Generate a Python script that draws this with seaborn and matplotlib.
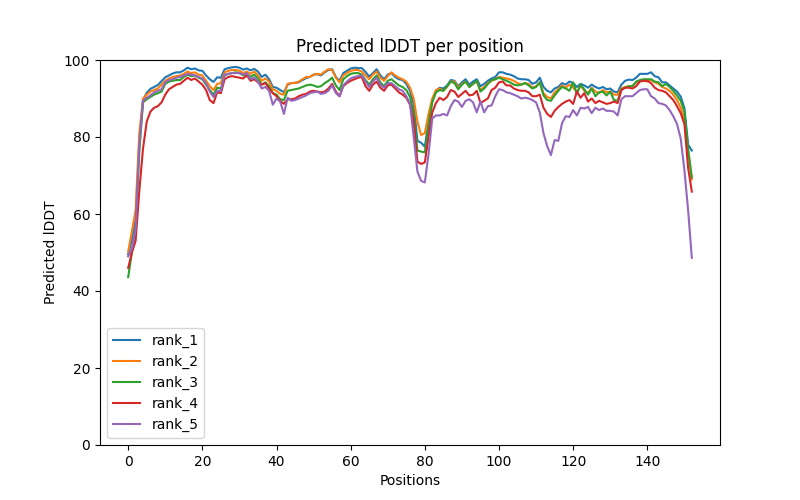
import numpy as np
import pandas as pd
import matplotlib
matplotlib.use("Agg")
import matplotlib.pyplot as plt
import seaborn as sns

# per-residue lDDT, one list per model rank
rank_1 = [49.5, 53.5, 58.5, 79.0, 89.5, 91.5, 92.5, 93.0, 93.5, 94.5,
          95.5, 96.0, 96.5, 96.8, 96.8, 97.3, 98.0, 97.6, 97.8, 97.3,
          97.2, 96.0, 95.0, 94.3, 95.5, 95.4, 97.6, 97.9, 98.1, 98.2,
          98.0, 97.5, 97.8, 97.3, 97.7, 97.0, 95.6, 96.2, 95.0, 93.0,
          92.8, 92.2, 91.6, 93.6, 94.0, 94.1, 94.2, 94.8, 95.3, 95.6,
          96.2, 96.3, 96.0, 96.8, 97.4, 97.6, 95.6, 94.6, 96.6, 97.2,
          97.8, 98.0, 97.9, 97.9, 96.9, 95.7, 96.6, 97.6, 96.0, 95.0,
          96.2, 96.6, 95.6, 95.0, 94.8, 93.8, 92.0, 88.5, 79.0, 78.5,
          77.5, 84.0, 89.5, 92.0, 92.8, 92.6, 93.4, 94.8, 94.6, 93.2,
          94.2, 95.0, 93.6, 94.4, 95.0, 93.2, 93.8, 94.6, 95.2, 95.6,
          96.8, 96.8, 96.4, 96.2, 95.8, 95.2, 95.0, 95.0, 94.8, 93.8,
          94.2, 95.4, 93.0, 92.0, 91.6, 92.6, 93.0, 94.0, 93.6, 94.4,
          94.0, 93.0, 93.8, 93.4, 92.8, 93.6, 93.0, 92.6, 93.0, 92.4,
          92.6, 91.8, 91.6, 93.6, 94.6, 94.9, 94.8, 95.4, 96.4, 96.4,
          96.4, 96.8, 95.8, 95.5, 94.2, 94.2, 93.4, 92.6, 91.8, 90.5,
          87.5, 78.0, 76.5]

rank_2 = [50.2, 55.5, 61.0, 81.0, 90.0, 91.0, 91.8, 92.2, 92.6, 93.6,
          94.6, 95.2, 95.6, 95.8, 96.0, 96.4, 97.0, 96.6, 96.8, 96.2,
          96.0, 94.6, 93.2, 92.2, 93.8, 94.0, 96.8, 97.2, 97.4, 97.4,
          97.2, 96.6, 97.0, 96.4, 97.0, 96.0, 94.6, 95.2, 94.4, 92.4,
          92.0, 91.2, 91.0, 93.8, 94.0, 94.0, 94.4, 95.0, 95.6, 95.6,
          96.2, 96.4, 96.2, 97.0, 97.6, 97.4, 95.4, 94.2, 96.0, 96.6,
          97.2, 97.4, 97.4, 97.0, 96.0, 95.0, 96.2, 97.0, 95.4, 94.6,
          95.8, 96.8, 96.0, 95.4, 95.0, 94.4, 92.8, 90.0, 84.0, 80.5,
          81.0, 86.0, 90.0, 92.2, 92.6, 92.0, 93.0, 94.4, 94.4, 92.8,
          93.8, 94.4, 93.0, 93.8, 94.4, 92.2, 93.0, 94.0, 94.6, 95.0,
          95.6, 95.4, 95.2, 95.0, 94.6, 94.0, 93.6, 94.0, 93.8, 92.8,
          93.2, 94.2, 91.4, 90.4, 90.0, 91.6, 92.4, 93.4, 92.8, 93.6,
          92.8, 91.6, 93.4, 92.0, 91.4, 92.8, 91.8, 91.4, 92.2, 91.6,
          91.8, 91.0, 91.0, 92.6, 93.0, 93.2, 93.2, 94.2, 94.6, 94.6,
          94.4, 94.8, 94.2, 93.8, 93.0, 92.6, 92.0, 91.0, 89.6, 87.6,
          84.6, 76.0, 69.0]

rank_3 = [43.6, 50.0, 56.0, 76.0, 89.0, 89.8, 90.4, 91.0, 91.4, 91.8,
          93.8, 94.4, 94.6, 94.8, 94.8, 95.6, 96.2, 95.8, 96.0, 95.4,
          95.0, 93.6, 92.2, 91.0, 92.8, 92.6, 96.0, 96.4, 96.6, 96.8,
          96.6, 96.0, 96.4, 95.6, 96.2, 95.2, 93.6, 94.2, 93.2, 91.4,
          91.0, 89.8, 89.6, 92.0, 92.2, 92.4, 92.6, 93.0, 93.4, 93.6,
          93.4, 93.0, 93.2, 94.0, 94.6, 95.4, 93.4, 92.2, 95.0, 95.8,
          96.4, 96.6, 96.6, 96.2, 94.8, 93.6, 95.0, 96.0, 94.2, 93.2,
          94.6, 95.0, 94.2, 93.4, 93.0, 92.2, 90.4, 86.0, 76.5, 76.2,
          76.0, 83.0, 89.0, 91.6, 92.2, 92.0, 93.2, 94.4, 94.0, 92.4,
          93.6, 94.4, 93.0, 93.8, 94.6, 91.8, 92.6, 93.8, 94.8, 95.0,
          95.4, 95.0, 94.6, 94.2, 93.6, 93.4, 93.6, 94.0, 93.4, 92.6,
          93.0, 94.2, 90.8, 89.6, 89.4, 90.8, 92.0, 93.0, 92.6, 92.0,
          94.2, 91.2, 93.6, 92.4, 91.0, 92.6, 90.6, 91.6, 91.8, 90.8,
          91.8, 89.6, 89.4, 92.4, 92.8, 93.2, 93.2, 94.4, 94.8, 95.0,
          95.0, 95.0, 94.4, 94.2, 93.2, 93.8, 93.0, 92.0, 90.8, 89.4,
          86.6, 77.0, 69.5]

rank_4 = [46.0, 50.0, 53.0, 66.0, 77.0, 84.0, 86.6, 87.6, 88.0, 89.0,
          91.0, 92.4, 93.0, 93.6, 93.8, 94.6, 95.4, 94.8, 95.2, 94.4,
          93.6, 92.2, 89.6, 88.8, 91.6, 91.4, 95.0, 95.6, 95.8, 95.6,
          95.4, 95.2, 96.0, 94.6, 95.0, 94.2, 93.6, 94.0, 92.6, 91.4,
          90.6, 89.4, 88.6, 89.8, 89.8, 90.0, 90.6, 91.0, 91.2, 91.8,
          92.0, 91.8, 91.6, 91.8, 92.6, 93.8, 91.8, 90.6, 93.2, 94.0,
          94.6, 95.0, 95.4, 95.6, 93.2, 92.0, 93.6, 94.4, 92.8, 92.0,
          93.4, 93.6, 92.6, 91.6, 91.0, 90.2, 88.4, 84.0, 73.6, 73.0,
          73.4, 80.0, 86.4, 88.8, 90.2, 89.6, 90.4, 92.2, 91.8, 90.4,
          91.2, 92.0, 90.8, 91.0, 92.0, 88.8, 89.4, 90.0, 92.2, 92.8,
          94.2, 94.4, 93.4, 93.4, 92.6, 92.2, 92.0, 92.0, 91.6, 90.6,
          90.6, 91.0, 87.6, 86.0, 85.2, 86.8, 87.8, 88.6, 89.2, 89.6,
          88.6, 91.8, 90.2, 91.4, 89.2, 90.0, 88.8, 89.4, 89.0, 88.6,
          88.8, 89.2, 88.8, 92.2, 92.8, 92.8, 92.6, 93.2, 94.4, 94.6,
          94.6, 94.0, 92.8, 92.2, 92.0, 91.6, 90.6, 89.6, 88.0, 86.2,
          83.4, 72.0, 65.8]

rank_5 = [49.0, 51.0, 56.0, 78.0, 89.4, 90.2, 90.8, 91.6, 92.0, 92.4,
          94.2, 94.8, 95.0, 95.4, 95.6, 96.0, 96.4, 96.2, 96.0, 95.6,
          95.2, 94.0, 91.8, 90.4, 92.0, 92.0, 96.2, 96.4, 96.6, 96.6,
          96.6, 96.2, 96.6, 95.0, 95.4, 94.4, 92.6, 93.0, 92.0, 88.4,
          90.0, 89.2, 86.0, 90.2, 89.4, 89.6, 90.0, 90.4, 90.8, 91.4,
          91.6, 91.8, 91.2, 91.4, 92.0, 93.4, 91.4, 90.6, 93.4, 94.4,
          95.2, 95.6, 95.8, 96.0, 94.4, 93.0, 94.4, 95.4, 93.6, 92.8,
          94.0, 94.0, 93.2, 92.4, 92.0, 90.6, 88.6, 80.0, 71.0, 68.6,
          68.2, 75.5, 84.8, 85.6, 85.6, 86.0, 85.6, 88.0, 89.6, 89.2,
          87.8, 89.4, 89.8, 89.0, 86.4, 89.2, 86.4, 88.0, 88.2, 90.6,
          92.4, 92.2, 91.6, 91.4, 91.0, 90.6, 90.0, 90.2, 90.0, 89.6,
          89.0, 86.4, 81.0, 77.6, 75.3, 79.2, 79.0, 83.6, 85.4, 85.2,
          87.0, 85.6, 87.6, 87.4, 87.8, 86.2, 87.6, 87.0, 87.4, 86.8,
          86.8, 86.6, 85.6, 89.8, 90.6, 90.6, 90.6, 91.4, 92.2, 92.4,
          92.4, 90.6, 90.0, 88.8, 88.6, 88.2, 87.0, 85.4, 83.4, 79.6,
          71.4, 61.0, 48.6]

ranks = ["rank_1", "rank_2", "rank_3", "rank_4", "rank_5"]
series = [rank_1, rank_2, rank_3, rank_4, rank_5]

frames = []
for name, vals in zip(ranks, series):
    frames.append(pd.DataFrame({"Positions": np.arange(len(vals)),
                                "lDDT": vals, "rank": name}))
df = pd.concat(frames, ignore_index=True)

fig, ax = plt.subplots(figsize=(8, 5), dpi=100)
sns.lineplot(data=df, x="Positions", y="lDDT", hue="rank",
             palette=sns.color_palette("tab10", 5), ax=ax, linewidth=1.5)

ax.set_ylim(0, 100)
ax.set_title("Predicted lDDT per position")
ax.set_xlabel("Positions")
ax.set_ylabel("Predicted lDDT")
ax.legend(loc="lower left")

plt.savefig("out.png", dpi=100)
